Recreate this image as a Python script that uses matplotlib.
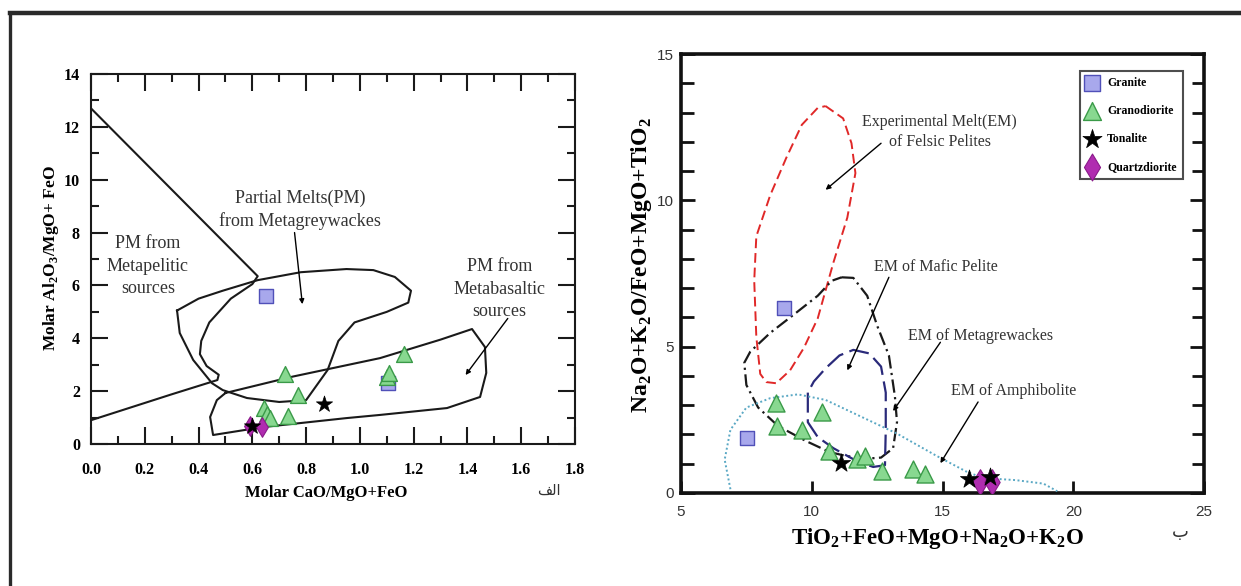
import matplotlib
matplotlib.use('Agg')
import matplotlib.pyplot as plt
from matplotlib.lines import Line2D
from matplotlib.ticker import MultipleLocator, FormatStrFormatter

plt.rcParams['font.family'] = ['Liberation Serif', 'DejaVu Sans']
plt.rcParams['mathtext.fontset'] = 'custom'
plt.rcParams['mathtext.rm'] = 'Liberation Serif'
plt.rcParams['mathtext.bf'] = 'Liberation Serif:bold'

# ---- (a) Molar Al2O3/(MgO+FeO) vs molar CaO/(MgO+FeO) ----
granite_a_x = [0.65, 1.105]
granite_a_y = [5.6, 2.3]
grano_a_x = [0.645, 0.655, 0.665, 0.72, 0.733, 0.77, 1.10, 1.11, 1.165]
grano_a_y = [1.35, 1.15, 1.0, 2.65, 1.05, 1.85, 2.55, 2.7, 3.4]
tonal_a_x = [0.60, 0.866]
tonal_a_y = [0.70, 1.50]
qdio_a_x = [0.592, 0.636]
qdio_a_y = [0.70, 0.65]

# field boundaries
pelite_x = [0.0, 0.62, 0.60, 0.52, 0.44, 0.41, 0.405, 0.43, 0.475, 0.47, 0.30, 0.0]
pelite_y = [12.7, 6.35, 6.05, 5.5, 4.6, 3.9, 3.4, 2.95, 2.62, 2.42, 1.88, 0.9]
wacke_x = [0.32, 0.40, 0.49, 0.62, 0.78, 0.95, 1.05, 1.13, 1.19, 1.18, 1.10, 0.98,
           0.92, 0.88, 0.80, 0.70, 0.58, 0.49, 0.45, 0.38, 0.33, 0.32]
wacke_y = [5.05, 5.5, 5.8, 6.2, 6.5, 6.62, 6.58, 6.32, 5.8, 5.35, 5.0, 4.6,
           3.9, 2.8, 1.66, 1.59, 1.74, 2.04, 2.3, 3.18, 4.2, 5.05]
basalt_x = [0.50, 0.75, 1.075, 1.30, 1.417, 1.465, 1.47, 1.447, 1.324, 1.075, 0.95,
            0.64, 0.454, 0.443, 0.468, 0.50]
basalt_y = [1.93, 2.55, 3.25, 3.95, 4.35, 3.67, 2.69, 1.78, 1.36, 1.10, 0.98,
            0.64, 0.34, 1.02, 1.66, 1.93]

# ---- (b) Na2O+K2O/(FeO+MgO+TiO2) vs TiO2+FeO+MgO+Na2O+K2O ----
granite_b_x = [8.94, 7.53]
granite_b_y = [6.33, 1.88]
grano_b_x = [8.64, 8.68, 9.62, 10.41, 10.65, 11.74, 12.05, 12.68, 13.86, 14.32]
grano_b_y = [3.09, 2.29, 2.16, 2.76, 1.44, 1.17, 1.25, 0.74, 0.83, 0.66]
tonal_b_x = [11.1, 16.02, 16.82]
tonal_b_y = [1.04, 0.48, 0.53]
qdio_b_x = [16.44, 16.89]
qdio_b_y = [0.38, 0.38]

felsic_x = [10.53, 11.2, 11.52, 11.67, 11.36, 10.83, 10.23, 9.70, 9.17, 8.64, 8.26,
            8.03, 7.88, 7.80, 7.88, 8.41, 9.02, 9.62, 10.23, 10.53]
felsic_y = [13.22, 12.8, 11.95, 10.93, 9.41, 7.88, 5.97, 4.96, 4.19, 3.75, 3.79,
            4.07, 5.34, 7.25, 8.77, 10.17, 11.44, 12.58, 13.16, 13.22]
mafic_x = [11.14, 11.59, 12.12, 12.5, 12.95, 13.18, 13.26, 13.11, 12.65, 12.05, 11.29,
           10.68, 9.77, 8.71, 7.95, 7.50, 7.42, 7.65, 8.41, 9.32, 10.23, 10.76, 11.14]
mafic_y = [7.37, 7.35, 6.74, 5.72, 4.70, 3.30, 2.42, 1.53, 1.21, 1.17, 1.27,
           1.40, 1.78, 2.29, 2.92, 3.69, 4.45, 4.83, 5.47, 6.10, 6.74, 7.25, 7.37]
wacke_b_x = [9.85, 9.85, 10.23, 10.83, 11.74, 12.35, 12.80, 12.83, 12.83, 12.65, 12.2,
             11.59, 11.06, 10.53, 10.08, 9.85]
wacke_b_y = [3.43, 2.42, 1.91, 1.53, 1.08, 0.89, 0.95, 2.16, 3.43, 4.32, 4.77,
             4.89, 4.70, 4.26, 3.81, 3.43]
amph_x = [6.89, 6.67, 6.89, 7.5, 8.41, 9.47, 10.53, 11.74, 13.26, 14.77, 15.98,
          16.59, 17.8, 18.86, 19.39]
amph_y = [0.13, 1.14, 2.16, 2.92, 3.24, 3.37, 3.18, 2.67, 2.03, 1.27, 0.70,
          0.51, 0.44, 0.32, 0.06]

sq = dict(marker='s', color='#a8a8ec', edgecolor='#5050b8', linewidths=1.0, zorder=5)
tri = dict(marker='^', color='#88d890', edgecolor='#3a9a48', linewidths=1.0, zorder=5)
star = dict(marker='*', color='black', edgecolor='black', linewidths=0.5, zorder=7)
dia = dict(marker='d', color='#b02cb0', edgecolor='#8a1a8a', linewidths=0.8, zorder=6)
arrow = dict(arrowstyle='-|>', color='black', lw=1.0, mutation_scale=7,
             shrinkA=0, shrinkB=0)
note = dict(ha='center', va='center', color='#333333')

fig = plt.figure(figsize=(12.41, 5.86), dpi=100)

# frame lines at top and left
fig.add_artist(Line2D([10 / 1241, 1.0], [1 - 13 / 586] * 2, color='#2a2a2a', lw=3.2))
fig.add_artist(Line2D([10 / 1241] * 2, [0.0, 1 - 13 / 586], color='#2a2a2a', lw=2.4))

# ---------------- left panel ----------------
ax1 = fig.add_axes([91 / 1241, 1 - 444 / 586, 484 / 1241, 370 / 586])
ax1.plot(pelite_x, pelite_y, color='#1a1a1a', lw=1.5, zorder=3)
ax1.plot(wacke_x, wacke_y, color='#1a1a1a', lw=1.5, zorder=3)
ax1.plot(basalt_x, basalt_y, color='#1a1a1a', lw=1.5, zorder=3)
ax1.scatter(granite_a_x, granite_a_y, s=90, **sq)
ax1.scatter(grano_a_x, grano_a_y, s=130, **tri)
ax1.scatter(tonal_a_x, tonal_a_y, s=150, **star)
ax1.scatter(qdio_a_x, qdio_a_y, s=100, **dia)
ax1.set_xlim(0, 1.8)
ax1.set_ylim(0, 14)
ax1.xaxis.set_major_locator(MultipleLocator(0.2))
ax1.xaxis.set_minor_locator(MultipleLocator(0.1))
ax1.yaxis.set_major_locator(MultipleLocator(2))
ax1.yaxis.set_minor_locator(MultipleLocator(1))
ax1.xaxis.set_major_formatter(FormatStrFormatter('%.1f'))
ax1.tick_params(which='both', direction='in', top=True, right=True, width=1.5,
                labelsize=11.5, color='#1a1a1a')
ax1.tick_params(axis='x', pad=13)
ax1.tick_params(axis='y', pad=8)
ax1.tick_params(which='major', length=12)
ax1.tick_params(which='minor', length=6)
for lab in ax1.get_xticklabels() + ax1.get_yticklabels():
    lab.set_fontweight('bold')
for sp in ax1.spines.values():
    sp.set_linewidth(1.5)
    sp.set_color('#1a1a1a')
ax1.set_xlabel('Molar CaO/MgO+FeO', fontsize=12, fontweight='bold')
ax1.xaxis.set_label_coords(0.486, -0.112)
ax1.set_ylabel(r'Molar Al$_\mathbf{2}$O$_\mathbf{3}$/MgO+ FeO', fontsize=12.5,
               fontweight='bold')
ax1.yaxis.set_label_coords(-0.062, 0.503)
ax1.text(1.52, 5.86, 'PM from\nMetabasaltic\nsources', fontsize=13,
         linespacing=1.45, **note)
ax1.text(0.212, 6.73, 'PM from\nMetapelitic\nsources', fontsize=13,
         linespacing=1.45, **note)
ax1.text(0.777, 8.85, 'Partial Melts(PM)\nfrom Metagreywackes', fontsize=13,
         linespacing=1.4, **note)
ax1.annotate('', xy=(0.786, 5.29), xytext=(0.757, 8.0), arrowprops=arrow)
ax1.annotate('', xy=(1.393, 2.61), xytext=(1.55, 4.75), arrowprops=arrow)
fig.text(549 / 1241, 1 - 490 / 586, '\ufed2\ufedf\ufe8d', fontsize=10.5,
         family=['DejaVu Sans'], ha='center', va='center', color='#333333')

# ---------------- right panel ----------------
ax2 = fig.add_axes([681 / 1241, 1 - 493 / 586, 523 / 1241, 439 / 586])
ax2.plot(felsic_x, felsic_y, color='#e02828', lw=1.4, dashes=(5, 2.5), zorder=3)
ax2.plot(mafic_x, mafic_y, color='#1a1a1a', lw=1.6, dashes=(6, 2, 1, 2), zorder=3)
ax2.plot(wacke_b_x, wacke_b_y, color='#2a2a7a', lw=1.6, dashes=(9, 3), zorder=3)
ax2.plot(amph_x, amph_y, color='#5aa8c4', lw=1.4, dashes=(1, 1.3), zorder=3)
ax2.scatter(granite_b_x, granite_b_y, s=110, label='Granite', **sq)
ax2.scatter(grano_b_x, grano_b_y, s=150, label='Granodiorite', **tri)
ax2.scatter(tonal_b_x, tonal_b_y, s=190, label='Tonalite', **star)
ax2.scatter(qdio_b_x, qdio_b_y, s=170, label='Quartzdiorite', **dia)
ax2.set_xlim(5, 25)
ax2.set_ylim(0, 15)
ax2.xaxis.set_major_locator(MultipleLocator(5))
ax2.yaxis.set_major_locator(MultipleLocator(5))
ax2.yaxis.set_minor_locator(MultipleLocator(1))
ax2.tick_params(which='both', direction='in', right=True, width=2.0,
                labelsize=11, color='#111111', labelcolor='#333333')
ax2.tick_params(axis='x', which='major', length=9, pad=9)
ax2.tick_params(axis='y', which='major', length=10, pad=5)
ax2.tick_params(axis='y', which='minor', length=9)
for lab in ax2.get_xticklabels() + ax2.get_yticklabels():
    lab.set_family(['Liberation Sans'])
for sp in ax2.spines.values():
    sp.set_linewidth(2.6)
    sp.set_color('#111111')
ax2.set_xlabel(r'TiO$_\mathbf{2}$+FeO+MgO+Na$_\mathbf{2}$O+K$_\mathbf{2}$O',
               fontsize=16.5, fontweight='bold')
ax2.xaxis.set_label_coords(0.491, -0.075)
ax2.set_ylabel(r'Na$_\mathbf{2}$O+K$_\mathbf{2}$O/FeO+MgO+TiO$_\mathbf{2}$',
               fontsize=17, fontweight='bold')
ax2.yaxis.set_label_coords(-0.052, 0.519)
ax2.text(14.89, 12.34, 'Experimental Melt(EM)\nof Felsic Pelites', fontsize=11.5,
         linespacing=1.3, **note)
ax2.text(14.74, 7.73, 'EM of Mafic Pelite', fontsize=11.5, **note)
ax2.text(16.44, 5.38, 'EM of Metagrewackes', fontsize=11.5, **note)
ax2.text(17.73, 3.47, 'EM of Amphibolite', fontsize=11.5, **note)
ax2.annotate('', xy=(10.53, 10.36), xytext=(12.65, 11.95), arrowprops=arrow)
ax2.annotate('', xy=(11.36, 4.19), xytext=(12.95, 7.37), arrowprops=arrow)
ax2.annotate('', xy=(13.11, 2.80), xytext=(14.92, 5.15), arrowprops=arrow)
ax2.annotate('', xy=(14.92, 1.02), xytext=(16.36, 3.11), arrowprops=arrow)
leg = ax2.legend(loc='upper left', bbox_to_anchor=(0.762, 0.962), frameon=True,
                 fancybox=False, edgecolor='#222222', borderpad=0.55,
                 labelspacing=1.35, handlelength=1.0, handletextpad=0.8,
                 borderaxespad=0, scatterpoints=1, markerscale=1.05,
                 prop={'weight': 'bold', 'size': 8.5})
leg.get_frame().set_linewidth(1.5)
fig.text(1180 / 1241, 1 - 532 / 586, '\ufe8f', fontsize=13,
         family=['DejaVu Sans'], ha='center', va='center', color='#333333')

fig.savefig('out.png', dpi=100)
